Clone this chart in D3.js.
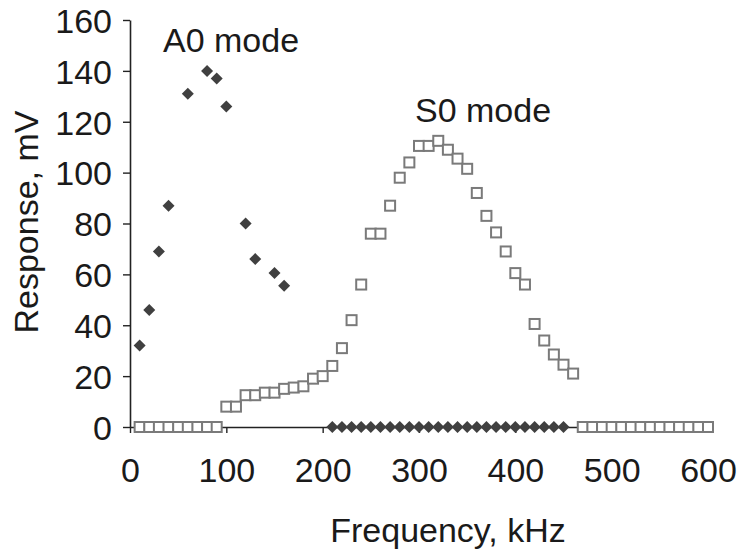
<!DOCTYPE html>
<html>
<head>
<meta charset="utf-8">
<script src="https://cdn.jsdelivr.net/npm/d3@7"></script>
<style>
  html, body { margin: 0; padding: 0; background: #fff; }
</style>
</head>
<body>
<script>
'use strict';

// A0 mode (filled diamonds)
const a0Freq = [10, 20, 30, 40, 60, 80, 90, 100, 120, 130, 150, 160,
  210, 220, 230, 240, 250, 260, 270, 280, 290, 300, 310, 320, 330, 340,
  350, 360, 370, 380, 390, 400, 410, 420, 430, 440, 450];
const a0Resp = [32, 46, 69, 87, 131, 140, 137, 126, 80, 66, 60.5, 55.5,
  0, 0, 0, 0, 0, 0, 0, 0, 0, 0, 0, 0, 0, 0,
  0, 0, 0, 0, 0, 0, 0, 0, 0, 0, 0];

// S0 mode (open squares)
const s0Freq = [10, 20, 30, 40, 50, 60, 70, 80, 90,
  100, 110, 120, 130, 140, 150, 160, 170, 180, 190, 200, 210, 220, 230, 240,
  250, 260, 270, 280, 290, 300, 310, 320, 330, 340, 350, 360, 370, 380, 390,
  400, 410, 420, 430, 440, 450, 460,
  470, 480, 490, 500, 510, 520, 530, 540, 550, 560, 570, 580, 590, 600];
const s0Resp = [0, 0, 0, 0, 0, 0, 0, 0, 0,
  8, 8, 12.5, 12.5, 13.5, 13.5, 15, 15.5, 16, 19, 20, 24, 31, 42, 56,
  76, 76, 87, 98, 104, 110.5, 110.5, 112.5, 109, 105.5, 101.5, 92, 83, 76.5, 69,
  60.5, 56, 40.5, 34, 28.5, 24.5, 21,
  0, 0, 0, 0, 0, 0, 0, 0, 0, 0, 0, 0, 0, 0];

const xTicks = [0, 100, 200, 300, 400, 500, 600];
const yTicks = [0, 20, 40, 60, 80, 100, 120, 140, 160];

const W = 743, H = 551;
const FONT = '"Liberation Sans", Arial, Helvetica, sans-serif';
const AXIS = '#222';
const FS = 34;

const svg = d3.select('body').append('svg')
  .attr('width', W).attr('height', H)
  .attr('viewBox', `0 0 ${W} ${H}`);
svg.append('rect').attr('width', W).attr('height', H).attr('fill', '#fff');

const x = d3.scaleLinear().domain([0, 600]).range([130, 708]);
const y = d3.scaleLinear().domain([0, 160]).range([427, 20]);

// axes
const xAxis = svg.append('g')
  .attr('transform', `translate(0,${y(0)})`)
  .call(d3.axisBottom(x).tickValues(xTicks).tickSize(6).tickPadding(25).tickSizeOuter(0));
const yAxis = svg.append('g')
  .attr('transform', `translate(${x(0)},0)`)
  .call(d3.axisLeft(y).tickValues(yTicks).tickSize(7).tickPadding(11).tickSizeOuter(0));

[xAxis, yAxis].forEach(g => {
  g.select('.domain').attr('stroke', AXIS).attr('stroke-width', 1.6);
  g.selectAll('.tick line').attr('stroke', AXIS).attr('stroke-width', 1.4);
  g.selectAll('.tick text')
    .attr('font-family', FONT).attr('font-size', FS).attr('fill', '#1a1a1a');
});
yAxis.selectAll('.tick text').attr('dy', '0.36em');

// S0 squares
const sq = 10;
svg.append('g').selectAll('rect')
  .data(s0Freq.map((f, i) => [f, s0Resp[i]]))
  .join('rect')
  .attr('x', d => x(d[0]) - sq / 2)
  .attr('y', d => y(d[1]) - sq / 2)
  .attr('width', sq).attr('height', sq)
  .attr('fill', '#fff')
  .attr('stroke', '#7a7a7a')
  .attr('stroke-width', 2);

// A0 diamonds
const dm = 6;
svg.append('g').selectAll('path')
  .data(a0Freq.map((f, i) => [f, a0Resp[i]]))
  .join('path')
  .attr('d', d => {
    const cx = x(d[0]), cy = y(d[1]);
    return `M${cx},${cy - dm}L${cx + dm},${cy}L${cx},${cy + dm}L${cx - dm},${cy}Z`;
  })
  .attr('fill', '#404040');

// annotations
function addText(tx, ty, text, size, anchor, rotate) {
  const el = svg.append('text')
    .attr('x', tx).attr('y', ty)
    .attr('text-anchor', anchor || 'start')
    .attr('font-family', FONT)
    .attr('font-size', size)
    .attr('fill', '#1a1a1a')
    .text(text);
  if (rotate) el.attr('transform', `rotate(${rotate},${tx},${ty})`);
  return el;
}

addText(163, 52, 'A0 mode', FS);
addText(415, 122, 'S0 mode', FS);
addText(448, 542, 'Frequency, kHz', FS, 'middle');
addText(38, 222, 'Response, mV', FS, 'middle', -90);
</script>
</body>
</html>
